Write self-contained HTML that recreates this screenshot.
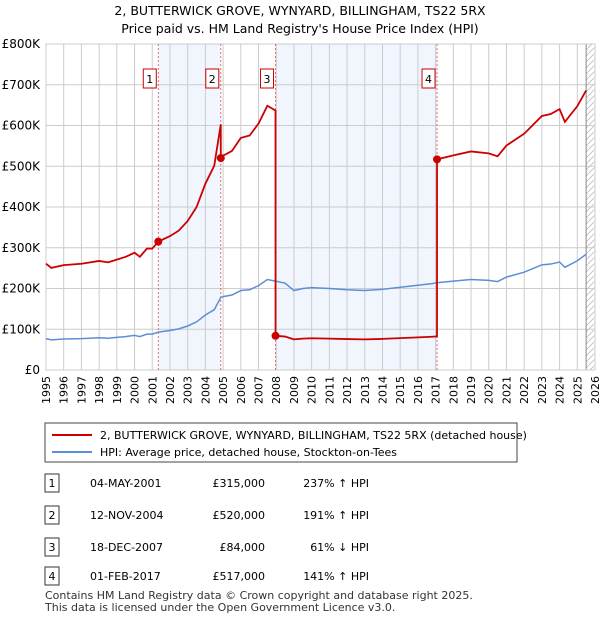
<!DOCTYPE html>
<html><head><meta charset="utf-8"><style>
body{margin:0;background:#fff;font-family:"Liberation Sans",sans-serif;}
svg text{font-family:"DejaVu Sans","Liberation Sans",sans-serif;}
</style></head><body>
<svg id="c" width="600" height="620" xmlns="http://www.w3.org/2000/svg">
<text x="300" y="15" text-anchor="middle" font-size="12.5">2, BUTTERWICK GROVE, WYNYARD, BILLINGHAM, TS22 5RX</text>
<text x="300" y="33" text-anchor="middle" font-size="12.5">Price paid vs. HM Land Registry's House Price Index (HPI)</text>
<g id="plot"></g>
<g>
<rect x="45" y="423" width="472" height="39" fill="#fff" stroke="#444"/>
<line x1="52" y1="435" x2="92" y2="435" stroke="#cc0000" stroke-width="2"/>
<text x="100" y="439" font-size="11">2, BUTTERWICK GROVE, WYNYARD, BILLINGHAM, TS22 5RX (detached house)</text>
<line x1="52" y1="452" x2="92" y2="452" stroke="#5b8fd4" stroke-width="2"/>
<text x="100" y="456" font-size="11">HPI: Average price, detached house, Stockton-on-Tees</text>
</g>
<g id="table" font-size="11"></g>
<text x="45" y="599" font-size="11" fill="#333">Contains HM Land Registry data © Crown copyright and database right 2025.</text>
<text x="45" y="611" font-size="11" fill="#333">This data is licensed under the Open Government Licence v3.0.</text>
</svg>
<script>
const hpiYears=[1995,1995.3,1996,1997,1998,1998.5,1999,1999.5,2000,2000.3,2000.7,2001,2001.34,2002,2002.5,2003,2003.5,2004,2004.5,2004.87,2005,2005.5,2006,2006.5,2007,2007.5,2007.96,2008.5,2009,2009.5,2010,2011,2012,2013,2014,2015,2016,2016.8,2017.08,2018,2019,2020,2020.5,2021,2022,2023,2023.5,2024,2024.3,2025,2025.5];
const hpiValues=[77,74,76,77,79,78,80,82,85,82,88,88,93,97,101,108,118,135,148,178,180,184,195,197,207,222,218,213,195,200,202,200,197,195,198,203,208,212,214,218,222,220,217,228,240,258,260,265,252,268,284];
const saleYears=[2001.34,2004.87,2007.96,2017.08];
const salePrices=[315000,520000,84000,517000];
const saleLabels=["1","2","3","4"];
const saleDates=["04-MAY-2001","12-NOV-2004","18-DEC-2007","01-FEB-2017"];
const salePriceText=["£315,000","£520,000","£84,000","£517,000"];
const saleHpiText=["237% ↑ HPI","191% ↑ HPI","61% ↓ HPI","141% ↑ HPI"];
const yTicks=[0,100000,200000,300000,400000,500000,600000,700000,800000];
const yTickLabels=["£0","£100K","£200K","£300K","£400K","£500K","£600K","£700K","£800K"];
const xTicks=[1995,1996,1997,1998,1999,2000,2001,2002,2003,2004,2005,2006,2007,2008,2009,2010,2011,2012,2013,2014,2015,2016,2017,2018,2019,2020,2021,2022,2023,2024,2025,2026];

const X0=46,X1=595,Y0=370,Y1=44;
const sx=y=>X0+(y-1995)/(2026-1995)*(X1-X0);
const sy=v=>Y0-v/800000*(Y0-Y1);
const NS="http://www.w3.org/2000/svg";
const plot=document.getElementById('plot');
function mk(tag,attrs,parent){const e=document.createElementNS(NS,tag);for(const k in attrs)e.setAttribute(k,attrs[k]);(parent||plot).appendChild(e);return e;}
function hpiAt(t){for(let i=0;i<hpiYears.length-1;i++){if(t<=hpiYears[i+1]){const f=(t-hpiYears[i])/(hpiYears[i+1]-hpiYears[i]);return (hpiValues[i]+f*(hpiValues[i+1]-hpiValues[i]))*1000;}}return hpiValues[hpiValues.length-1]*1000;}
// shaded ownership spans
for(const [a,b] of [[0,1],[2,3]]){const r=mk('rect',{x:sx(saleYears[a]),y:Y1,width:sx(saleYears[b])-sx(saleYears[a]),height:Y0-Y1,fill:'#eef3fc',opacity:0.8});

}
// hatch future
const last=hpiYears[hpiYears.length-1];
const pat=mk('pattern',{id:'h',width:6,height:6,patternUnits:'userSpaceOnUse'});
mk('path',{d:'M0,6 L6,0',stroke:'#bbb','stroke-width':0.8},pat);
const hr=mk('rect',{x:sx(last),y:Y1,width:X1-sx(last),height:Y0-Y1,fill:'url(#h)'});


// grid
xTicks.forEach(t=>{const l=mk('line',{x1:sx(t),x2:sx(t),y1:Y1,y2:Y0,stroke:'#ccc'});


const tx=mk('text',{x:0,y:0,'font-size':11,'text-anchor':'end',transform:`translate(${sx(t)+4},${Y0+6}) rotate(-90)`});tx.textContent=t;

});
yTicks.forEach((t,i)=>{const l=mk('line',{x1:X0,x2:X1,y1:sy(t),y2:sy(t),stroke:'#ccc'});


const tx=mk('text',{x:X0-6,y:sy(t)+4,'font-size':12,'text-anchor':'end'});tx.textContent=yTickLabels[i];

});
mk('line',{x1:sx(last),x2:sx(last),y1:Y1,y2:Y0,stroke:'#888'});
mk('rect',{x:X0,y:Y1,width:X1-X0,height:Y0-Y1,fill:'none',stroke:'#ccc'});
// sale markers lines
saleYears.forEach((t,i)=>{const l=mk('line',{x1:sx(t),x2:sx(t),y1:Y1,y2:Y0,stroke:'#e05050','stroke-dasharray':'2,2','stroke-width':0.8});


const b=mk('rect',{x:sx(t)-15,y:69,width:13,height:19,fill:'#fff',stroke:'#cc0000'});


const tx=mk('text',{x:sx(t)-8.5,y:83,'font-size':11,'text-anchor':'middle'});tx.textContent=saleLabels[i];

});
// hpi line
const hp=mk('polyline',{points:hpiYears.map((t,i)=>sx(t)+','+sy(hpiValues[i]*1000)).join(' '),fill:'none',stroke:'#5b8fd4','stroke-width':1.5});


// red line: property value indexed from each sale
let pts=[];
function ratioFor(t){let k=0;for(let i=0;i<saleYears.length;i++)if(t>=saleYears[i])k=i;return salePrices[k]/hpiAt(saleYears[k]);}
const times=[...hpiYears];saleYears.forEach(s=>{times.push(s-0.001);});times.sort((a,b)=>a-b);
times.forEach(t=>{pts.push(sx(t)+','+sy(hpiAt(t)*ratioFor(t)));});
const pl=mk('polyline',{points:pts.join(' '),fill:'none',stroke:'#cc0000','stroke-width':1.8});


saleYears.forEach((t,i)=>{const c=mk('circle',{cx:sx(t),cy:sy(salePrices[i]),r:4,fill:'#cc0000'});

});
// table
const tb=document.getElementById('table');
const rowY=[483,515,547,576];
saleYears.forEach((t,i)=>{const y=rowY[i];
const b=mk('rect',{x:45,y:y-9,width:14,height:18,fill:'#fff',stroke:'#333'},tb);


const vals=[[saleLabels[i],52,'middle'],[saleDates[i],90,'start'],[salePriceText[i],265,'end'],[saleHpiText[i],369,'end']];
vals.forEach(v=>{const tx=mk('text',{x:v[1],y:y+4,'text-anchor':v[2]},tb);tx.textContent=v[0];

});});
</script>
</body></html>
